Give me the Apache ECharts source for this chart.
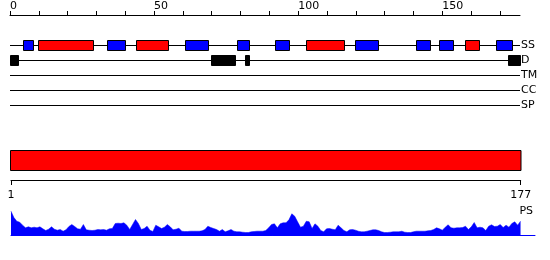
<!DOCTYPE html>
<html><head><meta charset="utf-8">
<script src="https://cdn.jsdelivr.net/npm/echarts@6/dist/echarts.min.js"></script>
<style>html,body{margin:0;padding:0;background:#fff}#c{width:550px;height:260px}</style>
</head><body><div id="c"></div>
<script>
// ---- data ----
const tracks = ['SS', 'D', 'TM', 'CC', 'SP'];
const topTicks = [0, 10, 20, 30, 40, 50, 60, 70, 80, 90, 100, 110, 120, 130, 140, 150, 160, 170];
const topTickLabels = [0, 50, 100, 150];
const strands = [[4.6, 7.9], [33.5, 39.9], [60.6, 68.7], [78.7, 83.0], [91.9, 96.9], [119.7, 127.8], [140.9, 145.9], [148.9, 153.9], [168.7, 174.1]];
const helices = [[9.6, 28.6], [43.6, 54.7], [102.8, 116.0], [158.0, 163.0]];
const disorder = [[0, 2.8], [69.6, 77.9], [81.7, 83.1], [172.8, 177.0]];
const domains = [[1, 177]];
const seqTickLabels = [1, 177];
const psLabel = 'PS';
const psValues = [
  24.3, 18, 14.3, 13.3, 10.3, 7.7, 8.7, 7.7, 8.3, 7.7, 8.7, 6.7, 5, 6.3, 8.7, 6.3, 5.3, 6, 4.3, 5.7,
  9, 11, 9, 6.7, 6.3, 11, 5.7, 5.3, 5, 5.3, 6, 5.7, 6, 5.3, 6.7, 7, 12, 12.3, 12, 12.7,
  10.3, 6, 11, 16, 12,
  6, 7, 9.3, 5.3, 4, 10.3, 8.7, 7, 8.3, 11, 8.7, 5.7, 6.3, 7.3, 4.3, 4, 4, 4.3, 4.3, 4.3,
  4.3, 4.7, 6, 9.3, 8, 7, 6, 4.3, 6, 3.7, 4.7, 6, 4.3, 3.7, 3.7, 3.3, 3, 3, 3.7, 4,
  4.3, 4.3, 4.3, 5, 7.7,
  11, 11.7, 7.7, 11.7, 12.7, 12.7, 15.7, 21.7, 19.3, 13.7, 8.3, 9.3, 14.3, 13.7, 7, 11.7, 9.3, 5, 3.7, 6.7,
  7, 6.3, 5.7, 10.3, 7.7, 5, 3.7, 5.7, 6, 5.3, 4.3, 3.7, 3.7, 4.3, 5, 5.7, 5.7, 5, 3.7, 3,
  3, 3.3, 3.7, 3.7, 3.7,
  4.3, 3.3, 3, 3, 3.7, 4.3, 4.3, 4.3, 4.3, 4.7, 5, 6, 7.7, 6.7, 5.3, 8.3, 10.7, 7.7, 7.3, 7.7,
  7.7, 8, 9.3, 6, 8.7, 13, 7.7, 8.3, 7.7, 5, 9.3, 10.7, 9, 9.3, 11, 8, 10.3, 8.3, 12, 13.7,
  10.3, 14.3
];

// ---- chart ----
const FONT = 'DejaVu Sans';
const chart = echarts.init(document.getElementById('c'));

function trackRect(h) {
  return function (params, api) {
    const s = api.coord([api.value(0), api.value(2)]);
    const e = api.coord([api.value(1), api.value(2)]);
    return {
      type: 'rect',
      shape: { x: Math.round(s[0]) + 0.5, y: Math.round(s[1] - h / 2) + 0.5, width: Math.round(e[0] - s[0]), height: h },
      style: { fill: api.visual('color'), stroke: '#000', lineWidth: 1 }
    };
  };
}
function domainRect(params, api) {
  const s = api.coord([api.value(0), 0]);
  const e = api.coord([api.value(1), 0]);
  const h = api.size([0, 1])[1];
  return {
    type: 'rect',
    shape: { x: Math.round(s[0]) - 0.5, y: Math.round(s[1] - h / 2) + 0.5, width: Math.round(e[0] - s[0]) + 0.5, height: h - 1 },
    style: { fill: api.visual('color'), stroke: '#000', lineWidth: 1 }
  };
}

const textStyle = { color: '#000', fontFamily: FONT, fontSize: 11 };

chart.setOption({
  animation: false,
  grid: [
    { left: 10, right: 30, top: 45, height: 60 },
    { left: 11, right: 29.3, top: 150, height: 21 },
    { left: 11, width: 524, top: 205.5, height: 30 }
  ],
  xAxis: [
    {
      gridIndex: 0, type: 'value', min: 0, max: 177, position: 'top', offset: 30,
      axisLine: { show: true, onZero: false, lineStyle: { color: '#000', width: 1 } },
      axisTick: { show: true, customValues: topTicks, length: 4, lineStyle: { color: '#000', width: 1 } },
      axisLabel: Object.assign({ customValues: topTickLabels, align: 'left', margin: 3 }, textStyle),
      splitLine: { show: false }
    },
    {
      gridIndex: 1, type: 'value', min: 1, max: 177, position: 'bottom', offset: 9,
      axisLine: { show: true, onZero: false, lineStyle: { color: '#000', width: 1 } },
      axisTick: { show: true, customValues: seqTickLabels, length: 5, lineStyle: { color: '#000', width: 1 } },
      axisLabel: Object.assign({ customValues: seqTickLabels, margin: 10 }, textStyle),
      splitLine: { show: false }
    },
    {
      gridIndex: 2, type: 'value', min: 1, max: 182,
      axisLine: { show: true, lineStyle: { color: '#0000ff', width: 1 } },
      axisTick: { show: false }, axisLabel: { show: false }, splitLine: { show: false }
    }
  ],
  yAxis: [
    {
      gridIndex: 0, type: 'category', data: tracks, inverse: true, boundaryGap: false, position: 'right',
      axisLine: { show: false }, axisTick: { show: false },
      axisLabel: Object.assign({ interval: 0, margin: 1, align: 'left' }, textStyle),
      splitLine: { show: true, interval: 0, lineStyle: { color: '#000', width: 1 } }
    },
    {
      gridIndex: 1, type: 'category', data: ['domain'], show: false
    },
    {
      gridIndex: 2, type: 'value', min: 0, max: 30, position: 'right',
      axisLine: { show: false }, axisTick: { show: false }, splitLine: { show: false },
      axisLabel: Object.assign({ inside: true, customValues: [24.5], margin: 2, formatter: function () { return psLabel; } }, textStyle)
    }
  ],
  series: [
    {
      type: 'custom', xAxisIndex: 0, yAxisIndex: 0, renderItem: trackRect(10),
      itemStyle: { color: '#0000ff' }, encode: { x: [0, 1], y: 2 },
      data: strands.map(d => [d[0], d[1], 'SS'])
    },
    {
      type: 'custom', xAxisIndex: 0, yAxisIndex: 0, renderItem: trackRect(10),
      itemStyle: { color: '#ff0000' }, encode: { x: [0, 1], y: 2 },
      data: helices.map(d => [d[0], d[1], 'SS'])
    },
    {
      type: 'custom', xAxisIndex: 0, yAxisIndex: 0, renderItem: trackRect(10),
      itemStyle: { color: '#000000' }, encode: { x: [0, 1], y: 2 },
      data: disorder.map(d => [d[0], d[1], 'D'])
    },
    {
      type: 'custom', xAxisIndex: 1, yAxisIndex: 1, renderItem: domainRect,
      itemStyle: { color: '#ff0000' }, encode: { x: [0, 1], y: 2 },
      data: domains.map(d => [d[0], d[1], 'domain'])
    },
    {
      type: 'line', xAxisIndex: 2, yAxisIndex: 2, symbol: 'none', showSymbol: false,
      lineStyle: { color: '#0000ff', width: 0.5 },
      areaStyle: { color: '#0000ff', opacity: 1 },
      data: psValues.map((v, i) => [i + 1, v])
    }
  ]
});
</script>
</body></html>
